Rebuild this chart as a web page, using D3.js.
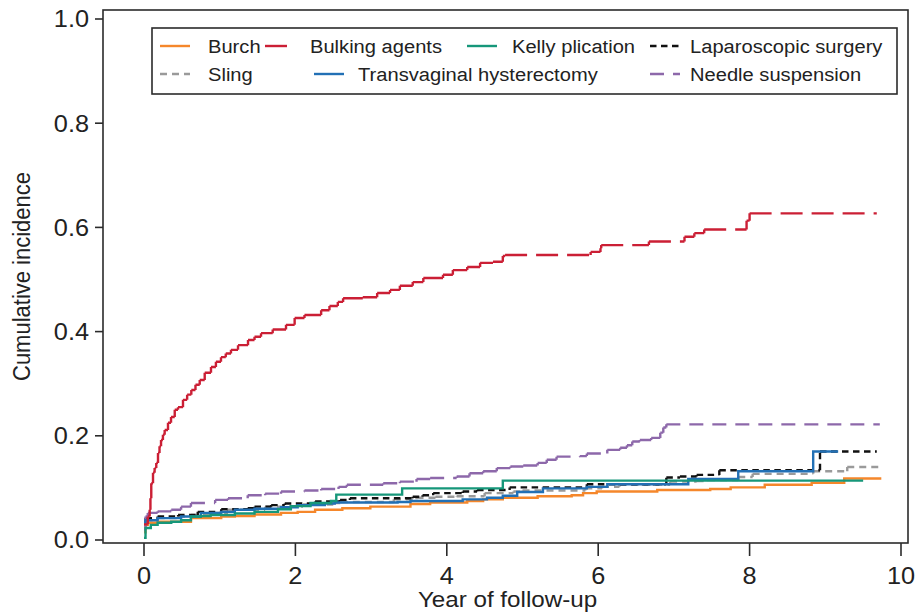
<!DOCTYPE html>
<html><head><meta charset="utf-8">
<script src="https://cdn.jsdelivr.net/npm/d3@7"></script>
<style>body{margin:0;background:#fff}svg{display:block}</style>
</head><body><svg id="c" width="920" height="614"></svg>
<script>
// ---------- data ----------
const seriesNames = ["Burch","Bulking agents","Kelly plication","Laparoscopic surgery","Sling","Transvaginal hysterectomy","Needle suspension"];

const burch = [[0,0.015],[0.02,0.029],[0.05,0.033],[0.18,0.035],[0.62,0.042],[1.02,0.045],[1.2,0.046],[1.46,0.049],[1.81,0.052],[2.03,0.054],[2.26,0.058],[2.62,0.061],[2.99,0.064],[3.52,0.069],[3.78,0.072],[4.27,0.075],[4.48,0.078],[4.74,0.081],[5.2,0.084],[5.65,0.086],[5.8,0.09],[5.98,0.093],[6.78,0.096],[7.48,0.098],[7.75,0.101],[8.2,0.106],[8.82,0.11],[9.25,0.118],[9.74,0.118]];

const bulkingAgents = [[0,0.03],[0.05,0.045],[0.075,0.058],[0.085,0.08],[0.096,0.109],[0.119,0.129],[0.14,0.138],[0.162,0.148],[0.185,0.167],[0.205,0.18],[0.225,0.192],[0.25,0.202],[0.273,0.211],[0.317,0.225],[0.357,0.236],[0.406,0.25],[0.449,0.255],[0.515,0.269],[0.57,0.279],[0.625,0.288],[0.68,0.298],[0.736,0.307],[0.802,0.321],[0.885,0.332],[0.95,0.342],[1.017,0.351],[1.08,0.358],[1.149,0.365],[1.242,0.374],[1.374,0.384],[1.46,0.39],[1.546,0.397],[1.7,0.404],[1.876,0.413],[1.99,0.426],[2.12,0.432],[2.34,0.441],[2.45,0.449],[2.56,0.457],[2.63,0.464],[2.89,0.466],[3.08,0.474],[3.25,0.48],[3.38,0.488],[3.55,0.495],[3.69,0.503],[3.95,0.509],[4.08,0.518],[4.27,0.524],[4.44,0.532],[4.61,0.534],[4.74,0.545],[4.77,0.547],[5.9,0.553],[6.03,0.56],[6.04,0.566],[6.67,0.573],[7.14,0.582],[7.27,0.589],[7.4,0.596],[7.96,0.613],[8.0,0.627],[9.68,0.627]];

const kellyPlication = [[0,0.004],[0.02,0.023],[0.09,0.029],[0.18,0.033],[0.36,0.035],[0.49,0.038],[0.62,0.045],[0.75,0.046],[0.88,0.048],[1.2,0.051],[1.46,0.054],[1.77,0.059],[1.94,0.065],[2.2,0.071],[2.47,0.075],[2.54,0.087],[3.41,0.099],[4.74,0.114],[9.5,0.114]];

const laparoscopicSurgery = [[0,0.035],[0.02,0.042],[0.18,0.045],[0.45,0.048],[0.71,0.054],[1.02,0.059],[1.37,0.061],[1.46,0.064],[1.68,0.067],[1.86,0.07],[2.26,0.074],[2.59,0.077],[2.72,0.08],[3.55,0.083],[3.68,0.086],[3.82,0.09],[4.21,0.093],[4.4,0.096],[4.83,0.101],[5.85,0.107],[6.9,0.12],[7.08,0.122],[7.3,0.125],[7.6,0.134],[8.93,0.17],[9.68,0.17]];

const sling = [[0,0.03],[0.02,0.038],[0.18,0.042],[0.45,0.045],[0.62,0.048],[0.9,0.052],[1.11,0.058],[1.6,0.064],[2.1,0.068],[2.5,0.071],[2.6,0.073],[3.3,0.078],[3.6,0.081],[3.85,0.083],[4.13,0.084],[4.5,0.09],[4.88,0.093],[5.0,0.095],[5.83,0.099],[6.05,0.102],[6.28,0.106],[6.95,0.112],[7.3,0.113],[7.45,0.115],[7.85,0.121],[8.04,0.127],[8.84,0.132],[9.29,0.14],[9.75,0.14]];

const transvaginalHysterectomy = [[0,0.033],[0.02,0.038],[0.18,0.042],[0.49,0.045],[0.75,0.052],[1.02,0.054],[1.2,0.058],[1.46,0.06],[1.81,0.063],[2.03,0.067],[2.39,0.07],[2.52,0.072],[3.35,0.073],[3.52,0.075],[4.21,0.078],[4.53,0.081],[4.74,0.085],[4.93,0.092],[5.27,0.099],[5.85,0.102],[6.12,0.107],[7.19,0.117],[7.85,0.132],[8.84,0.17],[9.17,0.17]];

const needleSuspension = [[0,0.02],[0.02,0.045],[0.05,0.052],[0.18,0.055],[0.36,0.058],[0.49,0.064],[0.62,0.071],[0.94,0.077],[1.11,0.08],[1.37,0.086],[1.6,0.089],[1.81,0.093],[2.12,0.095],[2.34,0.098],[2.57,0.102],[2.68,0.106],[3.16,0.109],[3.38,0.112],[3.6,0.117],[3.78,0.119],[4.13,0.122],[4.3,0.128],[4.48,0.132],[4.66,0.138],[4.84,0.141],[5.01,0.143],[5.2,0.148],[5.32,0.154],[5.45,0.16],[5.76,0.161],[5.85,0.166],[6.12,0.173],[6.29,0.177],[6.38,0.182],[6.45,0.189],[6.55,0.192],[6.7,0.196],[6.82,0.206],[6.86,0.216],[6.9,0.222],[9.72,0.222]];

const xTicks = [0,2,4,6,8,10];
const yTicks = [0,0.2,0.4,0.6,0.8,1.0];
const xLabel = "Year of follow-up";
const yLabel = "Cumulative incidence";

// ---------- styles ----------
const seriesData = {
  "Burch": burch,
  "Bulking agents": bulkingAgents,
  "Kelly plication": kellyPlication,
  "Laparoscopic surgery": laparoscopicSurgery,
  "Sling": sling,
  "Transvaginal hysterectomy": transvaginalHysterectomy,
  "Needle suspension": needleSuspension
};
const style = {
  "Burch": {color:"#F5872B", dash:null},
  "Bulking agents": {color:"#CB1F35", dash:"22,9"},
  "Kelly plication": {color:"#16977A", dash:null},
  "Laparoscopic surgery": {color:"#111111", dash:"6.5,4.5"},
  "Sling": {color:"#9A9A9A", dash:"7,5"},
  "Transvaginal hysterectomy": {color:"#2270B5", dash:null},
  "Needle suspension": {color:"#8D68AA", dash:"14,9"}
};
const legendPos = {
  "Burch": {x:160, y:46, tx:208},
  "Bulking agents": {x:265, y:46, tx:310},
  "Kelly plication": {x:467, y:46, tx:512},
  "Laparoscopic surgery": {x:650, y:46, tx:690},
  "Sling": {x:160, y:74, tx:208},
  "Transvaginal hysterectomy": {x:314, y:74, tx:358},
  "Needle suspension": {x:650, y:74, tx:690}
};
const drawOrder = ["Sling","Laparoscopic surgery","Burch","Needle suspension","Transvaginal hysterectomy","Kelly plication","Bulking agents"];

// ---------- layout ----------
const svg = d3.select("#c");
const x = d3.scaleLinear().domain([0,10]).range([144,901]);
const y = d3.scaleLinear().domain([0,1]).range([540,19]);
const frame = {l:103, r:908, t:10, b:543};
const FONT = "Liberation Sans, Arial, Helvetica, sans-serif";
const axisColor = "#2b2b2b";
const LW = 2.4;

svg.append("rect").attr("width",920).attr("height",614).attr("fill","#fff");

// step path where each segment is its own subpath (dash pattern restarts per segment)
function stepSubpaths(data){
  const p = d3.path();
  for (let i=0;i<data.length-1;i++){
    const [t0,v0] = data[i], [t1,v1] = data[i+1];
    p.moveTo(x(t0), y(v0)); p.lineTo(x(t1), y(v0));
    if (v1 !== v0){ p.moveTo(x(t1), y(v0)); p.lineTo(x(t1), y(v1)); }
  }
  return p.toString();
}
const stepLine = d3.line().x(d=>x(d[0])).y(d=>y(d[1])).curve(d3.curveStepAfter);

const gLines = svg.append("g");
drawOrder.forEach(name=>{
  const s = style[name], d = seriesData[name];
  gLines.append("path")
    .attr("d", s.dash ? stepSubpaths(d) : stepLine(d))
    .attr("fill","none")
    .attr("stroke", s.color)
    .attr("stroke-width", LW)
    .attr("stroke-dasharray", s.dash)
    .attr("stroke-linejoin","miter");
});

// frame
svg.append("rect")
  .attr("x",frame.l).attr("y",frame.t)
  .attr("width",frame.r-frame.l).attr("height",frame.b-frame.t)
  .attr("fill","none").attr("stroke",axisColor).attr("stroke-width",1.6);

// x ticks
const gx = svg.append("g");
xTicks.forEach(t=>{
  gx.append("line").attr("x1",x(t)).attr("x2",x(t)).attr("y1",frame.b).attr("y2",frame.b+13)
    .attr("stroke",axisColor).attr("stroke-width",1.6);
  gx.append("text").attr("transform",`translate(${x(t)},584) scale(1.1,1)`)
    .attr("text-anchor","middle").attr("font-family",FONT).attr("font-size",23).attr("fill","#222")
    .text(d3.format("d")(t));
});
// y ticks
const gy = svg.append("g");
yTicks.forEach(v=>{
  gy.append("line").attr("x1",frame.l-8).attr("x2",frame.l).attr("y1",y(v)).attr("y2",y(v))
    .attr("stroke",axisColor).attr("stroke-width",1.6);
  gy.append("text").attr("transform",`translate(89,${y(v)+8.3}) scale(1.1,1)`)
    .attr("text-anchor","end").attr("font-family",FONT).attr("font-size",23).attr("fill","#222")
    .text(d3.format(".1f")(v));
});
// axis titles
svg.append("text").attr("transform",`translate(${(frame.l+frame.r)/2+2},607) scale(1.1,1)`)
  .attr("text-anchor","middle").attr("font-family",FONT).attr("font-size",22).attr("fill","#222")
  .text(xLabel);
svg.append("text").attr("transform",`translate(30,${(frame.t+frame.b)/2}) rotate(-90) scale(1,1.1)`)
  .attr("text-anchor","middle").attr("font-family",FONT).attr("font-size",22).attr("fill","#222")
  .text(yLabel);

// legend
const gl = svg.append("g");
gl.append("rect").attr("x",152).attr("y",28).attr("width",745).attr("height",66)
  .attr("fill","#fff").attr("stroke",axisColor).attr("stroke-width",1.6);
seriesNames.forEach(name=>{
  const p = legendPos[name], s = style[name];
  gl.append("line").attr("x1",p.x).attr("x2",p.x+30).attr("y1",p.y).attr("y2",p.y)
    .attr("stroke",s.color).attr("stroke-width",LW).attr("stroke-dasharray",s.dash);
  gl.append("text").attr("transform",`translate(${p.tx},${p.y+7}) scale(1.06,1)`)
    .attr("font-family",FONT).attr("font-size",19).attr("fill","#222").text(name);
});
</script></body></html>
